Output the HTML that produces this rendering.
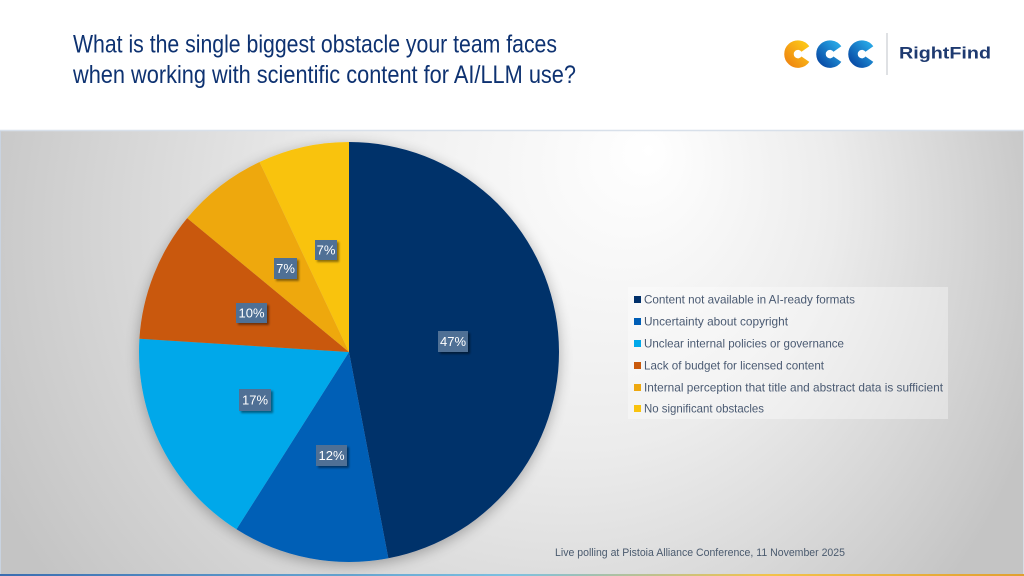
<!DOCTYPE html>
<html><head><meta charset="utf-8"><style>
html,body{margin:0;padding:0;background:#fff;}
svg{display:block;}
</style></head><body>
<svg width="1024" height="576" viewBox="0 0 1024 576" xmlns="http://www.w3.org/2000/svg">
<defs>
<radialGradient id="bg" gradientUnits="userSpaceOnUse" cx="500" cy="250" r="560" fx="650" fy="150">
<stop offset="0" stop-color="#ffffff"/>
<stop offset="0.45" stop-color="#ececec"/>
<stop offset="1" stop-color="#c4c4c4"/>
</radialGradient>
<linearGradient id="bot" x1="0" x2="1" y1="0" y2="0">
<stop offset="0" stop-color="#3a6db0"/>
<stop offset="0.5" stop-color="#7cc0e0"/>
<stop offset="0.75" stop-color="#f2c24a"/>
<stop offset="1" stop-color="#e0a030"/>
</linearGradient>
<linearGradient id="c1" x1="0" x2="1" y1="1" y2="0">
<stop offset="0" stop-color="#f08a12"/>
<stop offset="1" stop-color="#fcc417"/>
</linearGradient>
<linearGradient id="c2" x1="0" x2="1" y1="1" y2="0">
<stop offset="0" stop-color="#0a4fa8"/>
<stop offset="1" stop-color="#26a3e3"/>
</linearGradient>
<filter id="psh" x="-20%" y="-20%" width="140%" height="140%">
<feGaussianBlur in="SourceAlpha" stdDeviation="7"/>
<feOffset dx="0" dy="3"/>
<feComponentTransfer><feFuncA type="linear" slope="0.3"/></feComponentTransfer>
<feMerge><feMergeNode/><feMergeNode in="SourceGraphic"/></feMerge>
</filter>
<filter id="lsh" x="-30%" y="-30%" width="160%" height="160%">
<feGaussianBlur in="SourceAlpha" stdDeviation="1"/>
<feOffset dx="2" dy="2"/>
<feComponentTransfer><feFuncA type="linear" slope="0.45"/></feComponentTransfer>
<feMerge><feMergeNode/><feMergeNode in="SourceGraphic"/></feMerge>
</filter>
</defs>

<rect x="0" y="0" width="1024" height="576" fill="#ffffff"/>

<!-- Title -->
<g font-family="'Liberation Sans', sans-serif" font-size="25" fill="#0e3271">
<text x="73" y="52.5" textLength="484" lengthAdjust="spacingAndGlyphs">What is the single biggest obstacle your team faces</text>
<text x="73" y="83" textLength="503" lengthAdjust="spacingAndGlyphs">when working with scientific content for AI/LLM use?</text>
</g>

<!-- Logo -->
<g fill="none" stroke-width="9.5" stroke-linecap="butt">
<path d="M805.4 49.0 A9 9 0 1 0 805.4 59.2" stroke="url(#c1)"/>
<path d="M837.4 49.0 A9 9 0 1 0 837.4 59.2" stroke="url(#c2)"/>
<path d="M869.4 49.0 A9 9 0 1 0 869.4 59.2" stroke="url(#c2)"/>
</g>
<line x1="887" y1="33" x2="887" y2="75" stroke="#c9cdd2" stroke-width="1.2"/>
<text x="899" y="58.5" font-family="'Liberation Sans', sans-serif" font-weight="bold" font-size="17" fill="#1e3a70" textLength="92" lengthAdjust="spacingAndGlyphs">RightFind</text>

<!-- Panel -->
<rect x="0" y="131" width="1024" height="444" fill="url(#bg)"/>
<line x1="0" y1="130.5" x2="1024" y2="130.5" stroke="#d8e0ea" stroke-width="1.5"/>
<line x1="0.5" y1="131" x2="0.5" y2="575" stroke="#c9d3e0" stroke-width="1"/>
<line x1="1023.5" y1="131" x2="1023.5" y2="575" stroke="#d8dde4" stroke-width="1"/>
<rect x="0" y="574" width="1024" height="2" fill="url(#bot)"/>

<!-- Pie -->
<g filter="url(#psh)">
<path d="M349 352 L349 142 A210 210 0 0 1 388.35 558.28 Z" fill="#00306a"/>
<path d="M349 352 L388.35 558.28 A210 210 0 0 1 236.48 529.31 Z" fill="#005eb6"/>
<path d="M349 352 L236.48 529.31 A210 210 0 0 1 139.41 338.81 Z" fill="#00a8ea"/>
<path d="M349 352 L139.41 338.81 A210 210 0 0 1 187.19 218.14 Z" fill="#c9590b"/>
<path d="M349 352 L187.19 218.14 A210 210 0 0 1 259.59 161.99 Z" fill="#eea80f"/>
<path d="M349 352 L259.59 161.99 A210 210 0 0 1 349 142 Z" fill="#f9c30f"/>
</g>

<!-- Data labels -->
<g font-family="'Liberation Sans', sans-serif" font-size="13" fill="#ffffff" text-anchor="middle">
<g filter="url(#lsh)">
<rect x="315" y="240" width="22" height="20" fill="#4f6f95"/>
<rect x="274" y="258" width="23" height="21" fill="#4f6f95"/>
<rect x="236" y="303" width="31" height="20" fill="#4f6f95"/>
<rect x="438" y="331" width="30" height="21" fill="#4f6f95"/>
<rect x="239" y="389" width="32" height="22" fill="#4f6f95"/>
<rect x="316" y="445" width="31" height="21" fill="#4f6f95"/>
</g>
<text x="326" y="254.5">7%</text>
<text x="285.5" y="273">7%</text>
<text x="251.5" y="317.5">10%</text>
<text x="453" y="346">47%</text>
<text x="255" y="404.5">17%</text>
<text x="331.5" y="460">12%</text>
</g>

<!-- Legend -->
<rect x="628" y="287" width="320" height="132" fill="#ffffff" fill-opacity="0.35"/>
<g>
<rect x="634" y="296" width="7" height="7" fill="#00306a"/>
<rect x="634" y="318" width="7" height="7" fill="#005eb6"/>
<rect x="634" y="340" width="7" height="7" fill="#00a8ea"/>
<rect x="634" y="362" width="7" height="7" fill="#c9590b"/>
<rect x="634" y="384" width="7" height="7" fill="#eea80f"/>
<rect x="634" y="405" width="7" height="7" fill="#f9c30f"/>
</g>
<g font-family="'Liberation Sans', sans-serif" font-size="12" fill="#4a5a72">
<text x="644" y="303.5" textLength="211" lengthAdjust="spacingAndGlyphs">Content not available in AI-ready formats</text>
<text x="644" y="325.5" textLength="144" lengthAdjust="spacingAndGlyphs">Uncertainty about copyright</text>
<text x="644" y="347.5" textLength="200" lengthAdjust="spacingAndGlyphs">Unclear internal policies or governance</text>
<text x="644" y="369.5" textLength="180" lengthAdjust="spacingAndGlyphs">Lack of budget for licensed content</text>
<text x="644" y="391.5" textLength="299" lengthAdjust="spacingAndGlyphs">Internal perception that title and abstract data is sufficient</text>
<text x="644" y="412.5" textLength="120" lengthAdjust="spacingAndGlyphs">No significant obstacles</text>
</g>

<!-- Footer -->
<text x="555" y="556" font-family="'Liberation Sans', sans-serif" font-size="11" fill="#4a5a6e" textLength="290" lengthAdjust="spacingAndGlyphs">Live polling at Pistoia Alliance Conference, 11 November 2025</text>
</svg>
</body></html>
